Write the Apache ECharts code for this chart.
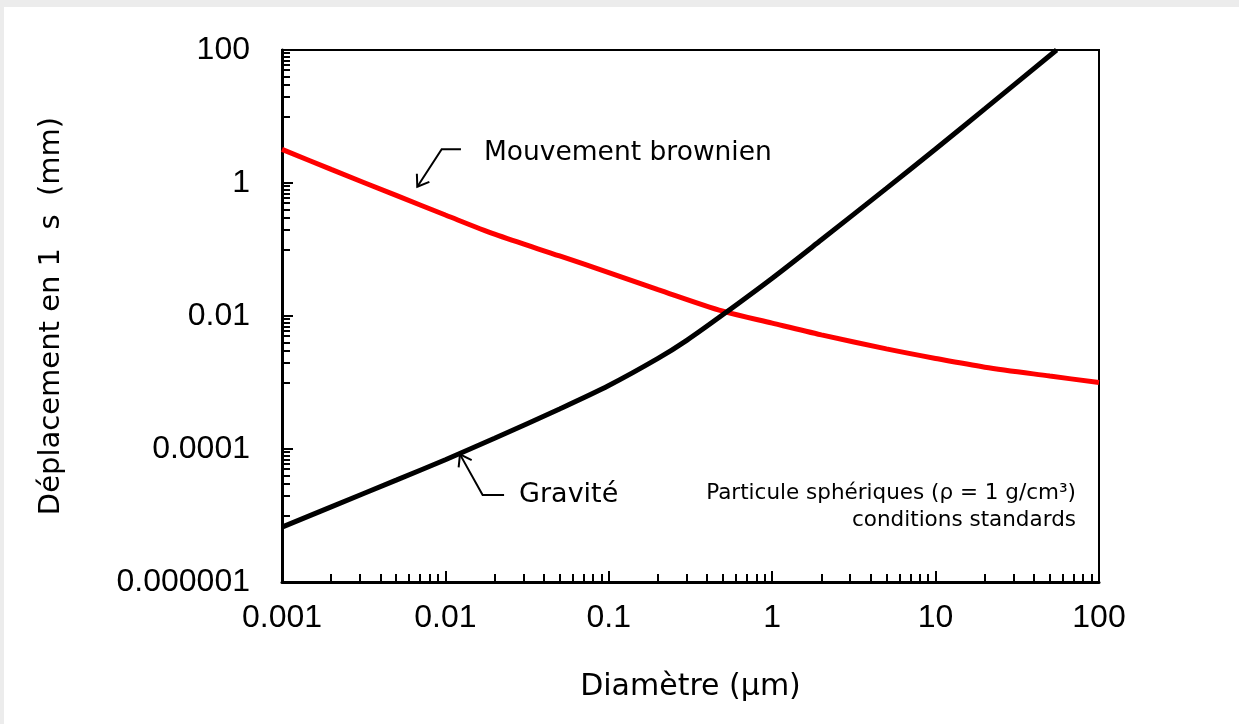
<!DOCTYPE html>
<html>
<head>
<meta charset="utf-8">
<title>Déplacement en 1 s</title>
<script src="https://cdn.jsdelivr.net/npm/echarts@6/dist/echarts.min.js"></script>
<style>
html, body { margin: 0; padding: 0; background: #ececec; }
#card { position: absolute; left: 4px; top: 7px; width: 1235px; height: 717px; background: #fff; }
#chart { position: absolute; left: 0; top: 0; width: 1239px; height: 724px; }
</style>
</head>
<body>
<div id="card"></div>
<div id="chart"></div>
<script>
// diamètres (µm) et déplacements (mm)
const diamBrownien = [0.001, 0.002, 0.005, 0.01, 0.02, 0.05, 0.1, 0.2, 0.5, 1, 2, 5, 10, 20, 50, 100];
const brownien = [3.2, 1.6, 0.65, 0.33, 0.17, 0.08, 0.045, 0.025, 0.0118, 0.0078, 0.0052, 0.0032, 0.0023, 0.0017, 0.00125, 0.001];

const diamGravite = [0.001, 0.002, 0.005, 0.01, 0.02, 0.05, 0.1, 0.2, 0.3, 0.5, 1, 2, 5, 10, 20, 55];
const gravite = [0.0000067, 0.0000135, 0.000034, 0.000069, 0.000145, 0.0004, 0.0009, 0.0023, 0.0043, 0.0105, 0.037, 0.14, 0.83, 3.25, 13, 100];

const xTicks = [0.001, 0.01, 0.1, 1, 10, 100];
const xTickLabels = ['0.001', '0.01', '0.1', '1', '10', '100'];
const yTicks = [0.000001, 0.0001, 0.01, 1, 100];
const yTickLabels = ['0.000001', '0.0001', '0.01', '1', '100'];

// annotations (coordonnées en données)
const brownLeader = [[0.01245, 3.21], [0.00949, 3.21], [0.00673, 0.88]];
const gravLeader = [[0.02286, 0.0000203], [0.0169, 0.0000203], [0.01228, 0.000083]];

// petites graduations
const xMinor = [];
xTicks.slice(0, -1).forEach(d => { for (let k = 2; k <= 9; k++) xMinor.push(+(d * k).toPrecision(3)); });
const yMinor = [];
yTicks.slice(0, -1).forEach(m => { for (let k = 1; k <= 9; k++) yMinor.push(+(m * 10 * k).toPrecision(3)); });

function labelFor(ticks, labels) {
  return v => {
    const i = ticks.findIndex(t => Math.abs(Math.log10(t) - Math.log10(v)) < 1e-6);
    return i >= 0 ? labels[i] : '';
  };
}

const titleFont = 'DejaVu Sans';
const black = '#000';

const chart = echarts.init(document.getElementById('chart'));

chart.setOption({
  animation: false,
  grid: {
    left: 282, right: 140, top: 50, bottom: 142,
    show: true, borderColor: black, borderWidth: 2,
    containLabel: false, outerBoundsMode: 'none'
  },
  xAxis: [
    {
      type: 'log', logBase: 10, min: 0.001, max: 100, position: 'bottom',
      axisLine: { lineStyle: { color: black, width: 3 } },
      axisTick: { inside: true, length: 11, customValues: xTicks, lineStyle: { color: black, width: 2 } },
      axisLabel: {
        customValues: xTicks, formatter: labelFor(xTicks, xTickLabels),
        color: black, fontSize: 32, fontFamily: 'Liberation Sans', margin: 20
      },
      splitLine: { show: false },
      name: 'Diamètre (µm)', nameLocation: 'middle', nameGap: 90,
      nameTextStyle: { color: black, fontSize: 30, fontFamily: titleFont }
    },
    {
      type: 'log', logBase: 10, min: 0.001, max: 100, position: 'bottom',
      axisLine: { show: false },
      axisTick: { inside: true, length: 8, customValues: xMinor, lineStyle: { color: black, width: 2 } },
      axisLabel: { show: false },
      splitLine: { show: false }
    }
  ],
  yAxis: [
    {
      type: 'log', logBase: 10, min: 0.000001, max: 100, position: 'left',
      axisLine: { lineStyle: { color: black, width: 3 } },
      axisTick: { inside: true, length: 11, customValues: yTicks, lineStyle: { color: black, width: 2 } },
      axisLabel: {
        customValues: yTicks, formatter: labelFor(yTicks, yTickLabels),
        color: black, fontSize: 32, fontFamily: 'Liberation Sans', margin: 32
      },
      splitLine: { show: false },
      name: 'Déplacement en 1  s  (mm)', nameLocation: 'middle', nameGap: 216,
      nameTextStyle: { color: black, fontSize: 29, fontFamily: titleFont }
    },
    {
      type: 'log', logBase: 10, min: 0.000001, max: 100, position: 'left',
      axisLine: { show: false },
      axisTick: { inside: true, length: 8, customValues: yMinor, lineStyle: { color: black, width: 2 } },
      axisLabel: { show: false },
      splitLine: { show: false }
    }
  ],
  series: [
    {
      name: 'Mouvement brownien', type: 'line', smooth: 0.3, showSymbol: false,
      xAxisIndex: 0, yAxisIndex: 0,
      lineStyle: { color: '#ff0000', width: 5 },
      data: diamBrownien.map((d, i) => [d, brownien[i]])
    },
    {
      name: 'Gravité', type: 'line', smooth: 0.3, showSymbol: false,
      xAxisIndex: 0, yAxisIndex: 0,
      lineStyle: { color: black, width: 5 },
      data: diamGravite.map((d, i) => [d, gravite[i]])
    }
  ]
});

function px(p) { return chart.convertToPixel({ seriesIndex: 0 }, p); }

function leader(points) {
  const pts = points.map(px);
  const tip = pts[pts.length - 1], prev = pts[pts.length - 2];
  const ang = Math.atan2(prev[1] - tip[1], prev[0] - tip[0]);
  const len = 13, spread = 35 * Math.PI / 180;
  const arm = a => [tip[0] + len * Math.cos(a), tip[1] + len * Math.sin(a)];
  return [
    { type: 'polyline', shape: { points: pts }, style: { stroke: black, lineWidth: 2, fill: null } },
    { type: 'polyline', shape: { points: [arm(ang - spread), tip, arm(ang + spread)] }, style: { stroke: black, lineWidth: 2, fill: null } }
  ];
}

const bStart = px(brownLeader[0]);
const gStart = px(gravLeader[0]);
const noteFont = '21.5px "DejaVu Sans"';

chart.setOption({
  graphic: [
    ...leader(brownLeader),
    ...leader(gravLeader),
    { type: 'text', x: bStart[0] + 23, y: bStart[1] + 4, style: { text: 'Mouvement brownien', font: '26.5px "DejaVu Sans"', fill: black, verticalAlign: 'middle' } },
    { type: 'text', x: gStart[0] + 15, y: gStart[1], style: { text: 'Gravité', font: '27px "DejaVu Sans"', fill: black, verticalAlign: 'middle' } },
    { type: 'text', x: 1076, y: 493, style: { text: 'Particule sphériques (ρ = 1 g/cm³)', font: noteFont, fill: black, align: 'right', verticalAlign: 'middle' } },
    { type: 'text', x: 1076, y: 520, style: { text: 'conditions standards', font: noteFont, fill: black, align: 'right', verticalAlign: 'middle' } }
  ]
});
</script>
</body>
</html>
